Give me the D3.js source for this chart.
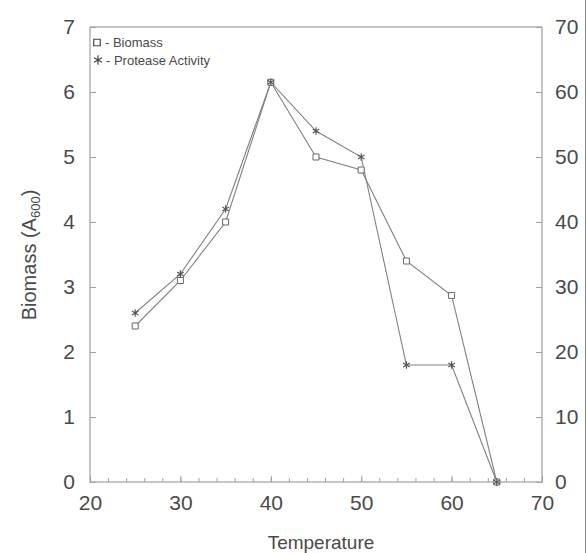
<!DOCTYPE html>
<html>
<head>
<meta charset="utf-8">
<script src="https://cdn.jsdelivr.net/npm/d3@7"></script>
<style>
  body { margin: 0; background: #fff; }
  svg { display: block; font-family: Arial, "Liberation Sans", sans-serif; }
</style>
</head>
<body>
<div id="container"></div>
<script>
/* DATA */
const temperature = [25, 30, 35, 40, 45, 50, 55, 60, 65];
const biomass = [2.4, 3.1, 4.0, 6.15, 5.0, 4.8, 3.4, 2.87, 0];
const protease = [26, 32, 42, 61.5, 54, 50, 18, 18, 0];
const xTicks = [20, 30, 40, 50, 60, 70];
const leftTicks = [0, 1, 2, 3, 4, 5, 6, 7];
const rightTicks = [0, 10, 20, 30, 40, 50, 60, 70];

/* CONSTANTS */
const width = 587,
      height = 553,
      plotLeft = 90, plotRight = 542, plotTop = 27, plotBottom = 482;
const lineColor = "#808080",
      textColor = "#4a4a4a",
      frameColor = "#a0a0a0";

const svg = d3.select("#container").append("svg")
  .attr("width", width)
  .attr("height", height);

// + SCALES
const xScale = d3.scaleLinear().domain([20, 70]).range([plotLeft, plotRight]);
const yLeft = d3.scaleLinear().domain([0, 7]).range([plotBottom, plotTop]);
const yRight = d3.scaleLinear().domain([0, 70]).range([plotBottom, plotTop]);

// frame
svg.append("rect")
  .attr("x", plotLeft).attr("y", plotTop)
  .attr("width", plotRight - plotLeft).attr("height", plotBottom - plotTop)
  .attr("fill", "none").attr("stroke", frameColor).attr("stroke-width", 1.2);

// image border on right edge
svg.append("line")
  .attr("x1", 585.5).attr("x2", 585.5).attr("y1", 0).attr("y2", height)
  .attr("stroke", "#888").attr("stroke-width", 1);

// + AXES
const styleAxis = g => {
  g.select(".domain").remove();
  g.selectAll(".tick line").attr("stroke", frameColor);
  g.selectAll(".tick text")
    .attr("fill", textColor)
    .style("font-size", "21px")
    .style("font-family", "Arial, 'Liberation Sans', sans-serif");
};

// minor ticks on x axis
svg.append("g")
  .attr("transform", `translate(0,${plotBottom})`)
  .call(d3.axisBottom(xScale).tickValues(d3.range(22, 70, 2)).tickSize(-4).tickFormat(""))
  .call(styleAxis);

svg.append("g")
  .attr("transform", `translate(0,${plotBottom})`)
  .call(d3.axisBottom(xScale).tickValues(xTicks).tickSize(-6).tickPadding(10).tickFormat(d3.format("d")))
  .call(styleAxis)
  .selectAll(".tick text").attr("dy", "0.85em");

svg.append("g")
  .attr("transform", `translate(${plotLeft},0)`)
  .call(d3.axisLeft(yLeft).tickValues(leftTicks).tickSize(-6).tickPadding(15).tickFormat(d3.format("d")))
  .call(styleAxis);

svg.append("g")
  .attr("transform", `translate(${plotRight},0)`)
  .call(d3.axisRight(yRight).tickValues(rightTicks).tickSize(-6).tickPadding(13).tickFormat(d3.format("d")))
  .call(styleAxis);

// axis labels
svg.append("text")
  .attr("x", (plotLeft + plotRight) / 2 + 5)
  .attr("y", 549)
  .attr("text-anchor", "middle")
  .attr("fill", textColor)
  .style("font-size", "19px")
  .text("Temperature");

const yLab = svg.append("text")
  .attr("transform", `translate(36,255) rotate(-90)`)
  .attr("text-anchor", "middle")
  .attr("fill", textColor)
  .style("font-size", "20px");
yLab.append("tspan").text("Biomass (A");
yLab.append("tspan").attr("dy", 4).style("font-size", "13px").text("600");
yLab.append("tspan").attr("dy", -4).text(")");

// + LINES
const bioLine = d3.line().x((d, i) => xScale(temperature[i])).y(d => yLeft(d));
const proLine = d3.line().x((d, i) => xScale(temperature[i])).y(d => yRight(d));

svg.append("path").datum(protease)
  .attr("d", proLine).attr("fill", "none")
  .attr("stroke", lineColor).attr("stroke-width", 1.1);

svg.append("path").datum(biomass)
  .attr("d", bioLine).attr("fill", "none")
  .attr("stroke", lineColor).attr("stroke-width", 1.1);

// + MARKERS
const square = d3.symbol().type(d3.symbolSquare).size(36);
const star = d3.symbol().type(d3.symbolAsterisk).size(40);

svg.append("g").selectAll("path")
  .data(biomass)
  .join("path")
  .attr("transform", (d, i) => `translate(${xScale(temperature[i])},${yLeft(d)})`)
  .attr("d", square)
  .attr("fill", "#fff").attr("stroke", "#666").attr("stroke-width", 1);

svg.append("g").selectAll("path")
  .data(protease)
  .join("path")
  .attr("transform", (d, i) => `translate(${xScale(temperature[i])},${yRight(d)})`)
  .attr("d", star)
  .attr("fill", "none").attr("stroke", "#555").attr("stroke-width", 1.2);

// + LEGEND
const legend = svg.append("g").attr("fill", textColor).style("font-size", "13px");
legend.append("path")
  .attr("transform", "translate(97,42.5)")
  .attr("d", d3.symbol().type(d3.symbolSquare).size(42))
  .attr("fill", "none").attr("stroke", "#444").attr("stroke-width", 1.2);
legend.append("text").attr("x", 105).attr("y", 47).text("- Biomass");
legend.append("path")
  .attr("transform", "translate(98,60)")
  .attr("d", d3.symbol().type(d3.symbolAsterisk).size(60))
  .attr("fill", "none").attr("stroke", "#444").attr("stroke-width", 1.2);
legend.append("text").attr("x", 106).attr("y", 65).text("- Protease Activity");
</script>
</body>
</html>
